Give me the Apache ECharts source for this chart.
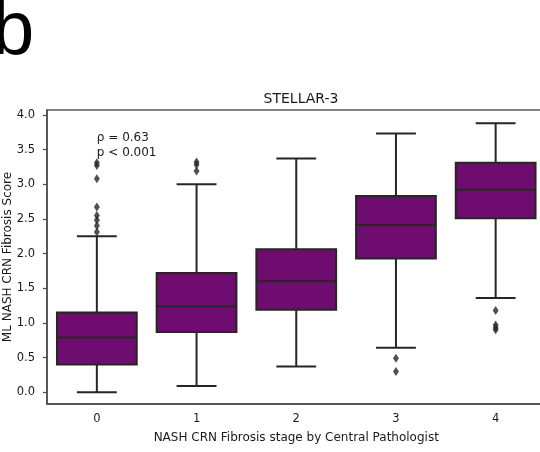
<!DOCTYPE html>
<html>
<head>
<meta charset="utf-8">
<script src="https://cdn.jsdelivr.net/npm/echarts@6/dist/echarts.min.js"></script>
<style>
  html, body { margin: 0; padding: 0; background: #fff; }
  #chart { width: 540px; height: 452px; }
</style>
</head>
<body>
<div id="chart"></div>
<script>
// Fibrosis stage categories (x axis)
const stages = ['0', '1', '2', '3', '4'];
// Box statistics of the ML fibrosis score per stage
const whiskerLow  = [0.00, 0.09, 0.37, 0.64, 1.36];
const q1          = [0.40, 0.87, 1.19, 1.93, 2.51];
const median      = [0.79, 1.24, 1.60, 2.41, 2.92];
const q3          = [1.15, 1.72, 2.06, 2.83, 3.31];
const whiskerHigh = [2.25, 3.00, 3.37, 3.73, 3.88];
// Points beyond the whiskers
const outliers = [
  [3.31, 3.27, 3.08, 2.67, 2.55, 2.48, 2.40, 2.31],
  [3.32, 3.28, 3.19],
  [],
  [0.49, 0.30],
  [1.18, 0.97, 0.93, 0.90]
];
// Y-axis tick values
const yTicks = [0.0, 0.5, 1.0, 1.5, 2.0, 2.5, 3.0, 3.5, 4.0];

const FONT = 'DejaVu Sans';
const BOX_FILL = '#6e0c70';
const LINE = '#262626';
const TEXT = '#1a1a1a';

const boxData = stages.map((s, i) => [i, whiskerLow[i], q1[i], median[i], q3[i], whiskerHigh[i]]);
const outlierData = [];
outliers.forEach((vals, i) => vals.forEach(v => outlierData.push([i, v])));

function renderBox(params, api) {
  const i = api.value(0);
  const band = api.size([1, 0])[0];
  const boxW = band * 0.8;
  const capW = boxW * 0.5;
  const x = api.coord([i, 0])[0];
  const yLo = api.coord([i, api.value(1)])[1];
  const yQ1 = api.coord([i, api.value(2)])[1];
  const yMed = api.coord([i, api.value(3)])[1];
  const yQ3 = api.coord([i, api.value(4)])[1];
  const yHi = api.coord([i, api.value(5)])[1];
  const lineStyle = { stroke: LINE, lineWidth: 2, fill: null };
  return {
    type: 'group',
    children: [
      { type: 'line', shape: { x1: x, y1: yQ1, x2: x, y2: yLo }, style: lineStyle },
      { type: 'line', shape: { x1: x, y1: yQ3, x2: x, y2: yHi }, style: lineStyle },
      { type: 'line', shape: { x1: x - capW / 2, y1: yLo, x2: x + capW / 2, y2: yLo }, style: lineStyle },
      { type: 'line', shape: { x1: x - capW / 2, y1: yHi, x2: x + capW / 2, y2: yHi }, style: lineStyle },
      { type: 'rect', shape: { x: x - boxW / 2, y: yQ3, width: boxW, height: yQ1 - yQ3 },
        style: { fill: BOX_FILL, stroke: LINE, lineWidth: 2 } },
      { type: 'line', shape: { x1: x - boxW / 2, y1: yMed, x2: x + boxW / 2, y2: yMed }, style: lineStyle }
    ]
  };
}

const chart = echarts.init(document.getElementById('chart'), null, { renderer: 'canvas' });

chart.setOption({
  animation: false,
  backgroundColor: '#ffffff',
  title: {
    text: 'STELLAR-3',
    left: 296,
    textAlign: 'center',
    top: 87,
    textStyle: { fontFamily: FONT, fontSize: 14, fontWeight: 'normal', color: TEXT }
  },
  grid: {
    left: 47, top: 110, width: 498.5, bottom: 48,
    outerBoundsMode: 'none',
    containLabel: false,
    show: true, borderColor: '#5a5a5a', borderWidth: 1.5, backgroundColor: 'transparent'
  },
  xAxis: {
    type: 'category',
    data: stages,
    boundaryGap: true,
    name: 'NASH CRN Fibrosis stage by Central Pathologist',
    nameLocation: 'middle',
    nameGap: 28,
    nameMoveOverlap: false,
    nameTextStyle: { fontFamily: FONT, fontSize: 12, color: TEXT },
    axisLine: { onZero: false, lineStyle: { color: '#4a4a4a', width: 1.5 } },
    axisTick: { alignWithLabel: true, length: 4, lineStyle: { color: '#4a4a4a', width: 1.2 } },
    axisLabel: { fontFamily: FONT, fontSize: 11.5, color: TEXT, margin: 9 },
    splitLine: { show: false }
  },
  yAxis: {
    type: 'value',
    min: -0.17,
    max: 4.07,
    name: 'ML NASH CRN Fibrosis Score',
    nameLocation: 'middle',
    nameGap: 33,
    nameMoveOverlap: false,
    nameTextStyle: { fontFamily: FONT, fontSize: 12, color: TEXT },
    axisLine: { show: true, lineStyle: { color: '#4a4a4a', width: 1.5 } },
    axisTick: { show: true, length: 4, customValues: yTicks, lineStyle: { color: '#4a4a4a', width: 1.2 } },
    axisLabel: {
      fontFamily: FONT, fontSize: 11.5, color: TEXT, margin: 12,
      customValues: yTicks,
      formatter: v => v.toFixed(1)
    },
    splitLine: { show: false }
  },
  series: [
    {
      type: 'custom',
      renderItem: renderBox,
      encode: { x: 0, y: [1, 2, 3, 4, 5] },
      data: boxData,
      z: 2
    },
    {
      type: 'scatter',
      data: outlierData,
      symbol: 'path://M0,-1L0.6,0L0,1L-0.6,0Z',
      symbolSize: [6, 9],
      itemStyle: { color: LINE },
      z: 3
    }
  ]
});

// Panel letter and correlation annotation
const p1 = chart.convertToPixel({ gridIndex: 0 }, [0, 3.67]);
const p2 = chart.convertToPixel({ gridIndex: 0 }, [0, 3.45]);
chart.setOption({
  graphic: [
    {
      type: 'text', left: -8, top: -5,
      style: { text: 'b', font: '76px "Liberation Sans"', fill: '#000' }
    },
    {
      type: 'text', x: p1[0], y: p1[1],
      style: { text: 'ρ = 0.63', fontFamily: FONT, fontSize: 12, fill: TEXT, verticalAlign: 'middle', align: 'left' }
    },
    {
      type: 'text', x: p2[0], y: p2[1],
      style: { text: 'p < 0.001', fontFamily: FONT, fontSize: 12, fill: TEXT, verticalAlign: 'middle', align: 'left' }
    }
  ]
});
</script>
</body>
</html>
